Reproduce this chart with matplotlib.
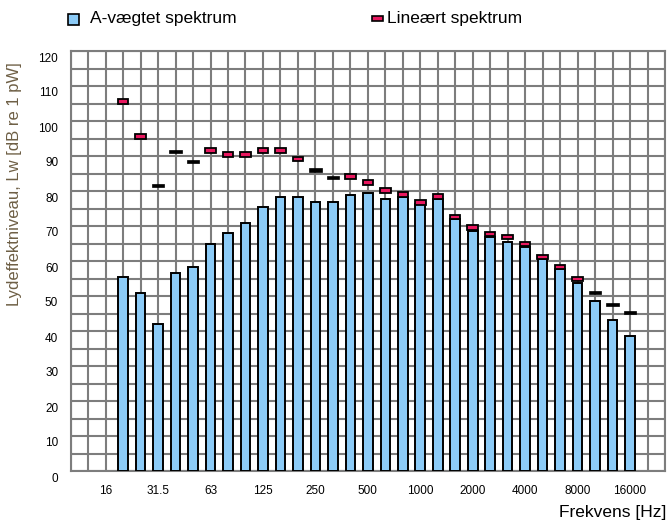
import numpy as np
import matplotlib
matplotlib.use("Agg")
import matplotlib.pyplot as plt
from matplotlib.patches import Rectangle
from matplotlib.transforms import ScaledTranslation

plt.rcParams['font.family'] = ['Liberation Sans', 'DejaVu Sans']

# 1/3-octave band centre frequencies [Hz]
bands = ['16', '20', '25', '31.5', '40', '50', '63', '80', '100', '125', '160',
         '200', '250', '315', '400', '500', '630', '800', '1000', '1250', '1600',
         '2000', '2500', '3150', '4000', '5000', '6300', '8000', '10000',
         '12500', '16000']

# A-weighted spectrum (no value in the 16 Hz band)
a_weighted = [None, 55.5, 50.8, 42.0, 56.5, 58.3, 65.0, 67.9, 70.8, 75.4, 78.3,
              78.3, 77.0, 77.0, 78.9, 79.5, 77.7, 78.2, 76.2, 77.6, 71.9,
              68.6, 67.0, 65.5, 63.9, 60.6, 57.6, 53.6, 48.5, 43.2, 38.5]

# linear spectrum
linear = [None, 105.6, 95.5, 81.5, 91.3, 88.5, 91.5, 90.5, 90.5, 91.5, 91.5,
          89.2, 86.0, 83.8, 84.1, 82.4, 80.1, 79.0, 76.7, 78.4, 72.6,
          69.6, 67.7, 66.8, 64.8, 61.1, 58.3, 54.8, 51.1, 47.6, 45.2]

tick_bands = ['16', '31.5', '63', '125', '250', '500', '1000', '2000', '4000',
              '8000', '16000']

# markers that come out as plain dark dashes in the original
dark_bands = ['31.5', '40', '50', '250', '315', '10000', '12500', '16000']

blue = '#8ccbf7'
pink = '#e8185f'
grid_col = '#7d7d7d'

x = np.arange(len(bands))
fig = plt.figure(figsize=(6.67, 5.24), dpi=100)
ax = fig.add_axes([70.7 / 667, 1 - 471 / 524, (665 - 70.7) / 667, 420 / 524])

ax.set_xlim(-2, 32)
ax.set_ylim(0, 120)
ax.set_xticks([bands.index(b) for b in tick_bands])
ax.set_xticklabels(tick_bands)
ax.set_xticks(np.arange(-2, 33), minor=True)
ax.set_yticks(np.arange(0, 121, 10))
ax.set_yticks(np.arange(0, 121, 5), minor=True)
ax.grid(True, which='both', color=grid_col, linewidth=1.5)
ax.set_axisbelow(True)
ax.tick_params(which='both', length=0)
ax.tick_params(axis='x', labelsize=8.5, pad=10)
ax.tick_params(axis='y', labelsize=8.5, pad=9)
for sp in ax.spines.values():
    sp.set_color(grid_col)
    sp.set_linewidth(1.5)

off = ScaledTranslation(0, -6 / 100, fig.dpi_scale_trans)
for lab in ax.get_yticklabels():
    lab.set_transform(lab.get_transform() + off)

xa = [i for i, v in enumerate(a_weighted) if v is not None]
ya = [a_weighted[i] for i in xa]
ax.bar(xa, ya, width=0.55, color=blue, edgecolor='black', linewidth=1.4,
       zorder=3)

for i, v in enumerate(linear):
    if v is None:
        continue
    if bands[i] in dark_bands:
        ax.bar(i, 0.9, bottom=v - 0.45, width=0.72, color='black',
               edgecolor='black', linewidth=0.5, zorder=4)
    else:
        ax.bar(i, 1.3, bottom=v - 0.65, width=0.6, color=pink,
               edgecolor='black', linewidth=1.3, zorder=4)

ax.set_ylabel('Lydeffektniveau, Lw [dB re 1 pW]', fontsize=12,
              color='#6e5f45')
ax.yaxis.set_label_coords(-(70.7 - 22) / 594, (471 - 184) / 420)
fig.text(666 / 667, 1 - 513 / 524, 'Frekvens [Hz]', fontsize=12.5,
         ha='right', va='center')

# legend drawn by hand along the top edge
fig.add_artist(Rectangle((68 / 667, 1 - 25 / 524), 11 / 667, 11 / 524,
                         transform=fig.transFigure, facecolor=blue,
                         edgecolor='black', linewidth=1.2))
fig.text(90 / 667, 1 - 18 / 524, 'A-vægtet spektrum', fontsize=12.5,
         va='center')
fig.add_artist(Rectangle((372 / 667, 1 - 21 / 524), 11 / 667, 5 / 524,
                         transform=fig.transFigure, facecolor=pink,
                         edgecolor='black', linewidth=1.2))
fig.text(387 / 667, 1 - 18 / 524, 'Lineært spektrum', fontsize=12.5,
         va='center')

fig.savefig('out.png', dpi=100)
